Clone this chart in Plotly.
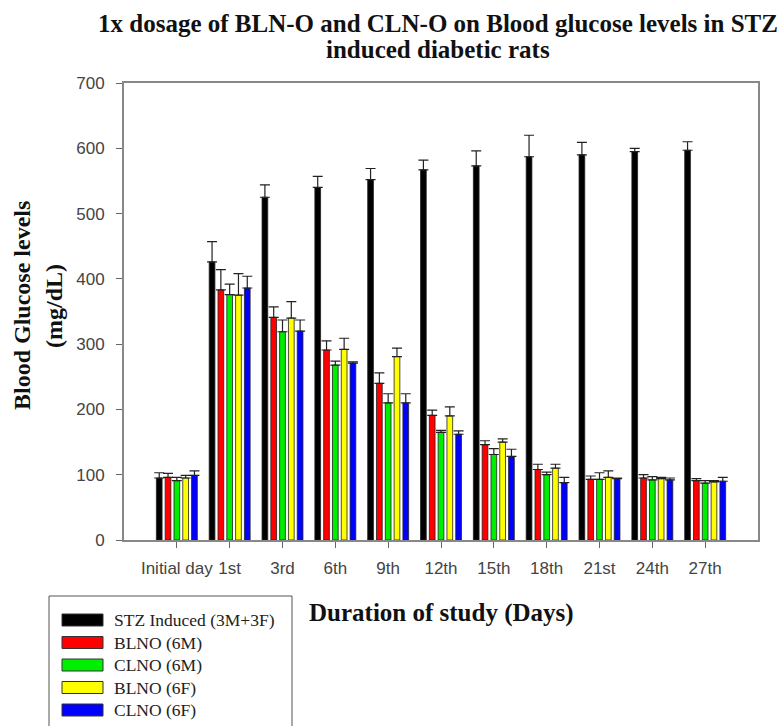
import plotly.graph_objects as go

# ---------------- data ----------------
categories = ["Initial day", "1st", "3rd", "6th", "9th", "12th", "15th", "18th", "21st", "24th", "27th"]

series_names = ["STZ Induced (3M+3F)", "BLNO (6M)", "CLNO (6M)", "BLNO (6F)", "CLNO (6F)"]
series_colors = ["#000000", "#ff0000", "#00ee00", "#ffff00", "#0000ff"]

stz_induced = [95, 426, 525, 540, 552, 567, 573, 587, 590, 595, 597]
stz_err = [8, 31, 19, 17, 17, 15, 23, 33, 19, 5, 13]

blno_6m = [96, 383, 341, 291, 240, 191, 146, 108, 93, 95, 91]
blno_6m_err = [6, 31, 16, 14, 16, 8, 6, 8, 5, 5, 3]

clno_6m = [91, 376, 319, 268, 210, 165, 131, 100, 93, 92, 87]
clno_6m_err = [5, 16, 18, 6, 14, 3, 9, 4, 10, 5, 4]

blno_6f = [95, 375, 340, 292, 281, 190, 150, 110, 96, 94, 89]
blno_6f_err = [4, 33, 25, 17, 13, 14, 5, 6, 10, 2, 2]

clno_6f = [99, 386, 320, 271, 210, 162, 128, 88, 94, 92, 90]
clno_6f_err = [7, 18, 17, 2, 14, 5, 11, 8, 1, 3, 6]

y_ticks = [0, 100, 200, 300, 400, 500, 600, 700]

values = [stz_induced, blno_6m, clno_6m, blno_6f, clno_6f]
errors = [stz_err, blno_6m_err, clno_6m_err, blno_6f_err, clno_6f_err]

# ---------------- layout geometry (pixels) ----------------
W, H = 781, 726
PX_L, PX_R, PX_T, PX_B = 124, 758, 83, 540


def px(x):
    return (x - PX_L) / (PX_R - PX_L)


def py(y):
    return (PX_B - y) / (PX_B - PX_T)


SERIF = "Liberation Serif, Times New Roman, serif"
SANS = "Liberation Sans, Arial, sans-serif"

fig = go.Figure()
for name, color, vals, errs in zip(series_names, series_colors, values, errors):
    fig.add_trace(go.Bar(
        x=categories, y=vals, name=name,
        marker=dict(color=color, line=dict(color="#222222", width=0.8)),
        error_y=dict(type="data", symmetric=False, array=errs,
                     arrayminus=[0] * len(errs), color="#222222",
                     thickness=1.2, width=5),
        showlegend=False,
    ))

annotations = []
title_font = dict(family=SERIF, size=25, color="#111111")
# Title (two lines)
annotations.append(dict(text="<b>1x dosage of BLN-O and CLN-O on Blood glucose levels in STZ</b>",
                        x=px(438), y=py(24), xref="paper", yref="paper",
                        xanchor="center", yanchor="middle", showarrow=False,
                        font=title_font))
annotations.append(dict(text="<b>induced diabetic rats</b>",
                        x=px(438), y=py(50), xref="paper", yref="paper",
                        xanchor="center", yanchor="middle", showarrow=False,
                        font=title_font))
# Y-axis title
annotations.append(dict(text="<b>Blood Glucose levels</b>", textangle=-90,
                        x=px(22), y=py(306), xref="paper", yref="paper",
                        xanchor="center", yanchor="middle", showarrow=False,
                        font=dict(family=SERIF, size=24, color="#111111")))
annotations.append(dict(text="<b>(mg/dL)</b>", textangle=-90,
                        x=px(54), y=py(306), xref="paper", yref="paper",
                        xanchor="center", yanchor="middle", showarrow=False,
                        font=dict(family=SERIF, size=24, color="#111111")))
# X-axis title
annotations.append(dict(text="<b>Duration of study (Days)</b>",
                        x=px(441), y=py(613), xref="paper", yref="paper",
                        xanchor="center", yanchor="middle", showarrow=False,
                        font=dict(family=SERIF, size=25, color="#111111")))

shapes = []
# Manual legend box
shapes.append(dict(type="rect", xref="paper", yref="paper",
                   x0=px(49), x1=px(292), y0=py(740), y1=py(596),
                   line=dict(color="#555555", width=1), fillcolor="rgba(0,0,0,0)"))
entry_y = [620, 642.5, 665, 687.5, 710]
for name, color, ey in zip(series_names, series_colors, entry_y):
    shapes.append(dict(type="rect", xref="paper", yref="paper",
                       x0=px(62), x1=px(103), y0=py(ey + 6), y1=py(ey - 6),
                       line=dict(color="#333333", width=1), fillcolor=color))
    annotations.append(dict(text=name, x=px(112), y=py(ey), xref="paper", yref="paper",
                            xanchor="left", yanchor="middle", showarrow=False,
                            font=dict(family=SERIF, size=17.5, color="#222222")))

fig.update_layout(
    width=W, height=H,
    margin=dict(l=PX_L, r=W - PX_R, t=PX_T, b=H - PX_B, pad=0),
    paper_bgcolor="white", plot_bgcolor="white",
    barmode="group", bargap=0.167, bargroupgap=0.35,
    annotations=annotations, shapes=shapes,
    showlegend=False,
)
fig.update_xaxes(type="category", range=[-1, 11],
                 showline=True, linecolor="#888888", linewidth=2, mirror=True,
                 ticks="outside", ticklen=6, tickcolor="#666666",
                 ticklabelstandoff=6,
                 tickfont=dict(family=SANS, size=17, color="#444444"),
                 showgrid=False, zeroline=False)
fig.update_yaxes(range=[0, 700], tickvals=y_ticks,
                 showline=True, linecolor="#888888", linewidth=2, mirror=True,
                 ticks="outside", ticklen=6, tickcolor="#666666",
                 ticklabelstandoff=8,
                 tickfont=dict(family=SANS, size=17, color="#444444"),
                 showgrid=False, zeroline=False)

fig.write_html("out.html",
               config={"displayModeBar": False},
               post_script="document.body.style.margin='0px';document.body.style.overflow='hidden';")
